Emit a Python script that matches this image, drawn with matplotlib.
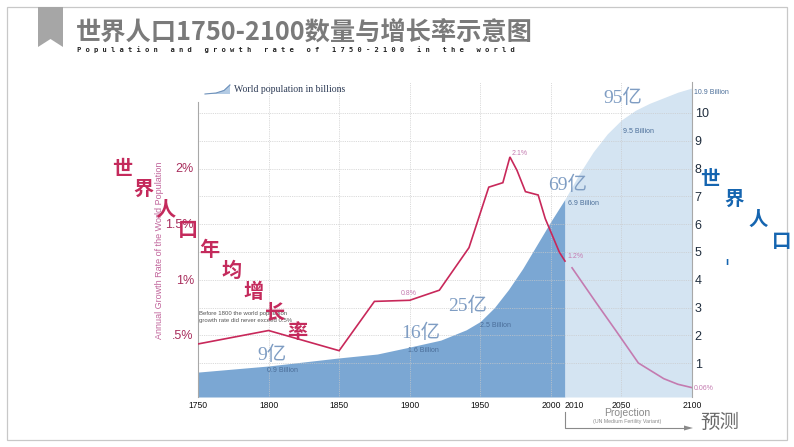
import matplotlib
matplotlib.use('Agg')
import matplotlib.pyplot as plt
from matplotlib.patches import Polygon, Rectangle
from matplotlib.lines import Line2D

plt.rcParams['font.family'] = ['Liberation Sans', 'Noto Sans CJK SC', 'DejaVu Sans']

# ---------------- data ----------------
pop_years = [1750, 1800, 1850, 1877, 1900, 1922, 1940, 1950, 1960, 1970, 1980, 1990, 2000, 2010]
pop_values = [0.68, 0.90, 1.19, 1.33, 1.58, 1.83, 2.20, 2.50, 3.00, 3.65, 4.40, 5.25, 6.10, 6.90]
proj_years = [2010, 2020, 2030, 2040, 2050, 2060, 2070, 2080, 2090, 2100]
proj_values = [6.90, 7.80, 8.60, 9.25, 9.75, 10.10, 10.35, 10.55, 10.75, 10.90]

growth_years = [1750, 1800, 1850, 1875, 1900, 1921, 1942, 1956, 1966, 1971, 1976, 1982, 1991,
                1996, 2003, 2006, 2010]
growth_rate = [0.42, 0.54, 0.36, 0.80, 0.81, 0.90, 1.28, 1.82, 1.86, 2.09, 1.97, 1.78, 1.75,
               1.54, 1.33, 1.24, 1.16]
proj_growth_years = [2015, 2032, 2046, 2062, 2080, 2090, 2100]
proj_growth_rate = [1.10, 0.79, 0.54, 0.25, 0.11, 0.06, 0.03]

x_ticks = [1750, 1800, 1850, 1900, 1950, 2000, 2010, 2050, 2100]
x_tick_labels = ['1750', '1800', '1850', '1900', '1950', '2000', '2010', '2050', '2100']
grid_years = [1800, 1850, 1900, 1950, 2000, 2050]
rate_ticks = [0.5, 1.0, 1.5, 2.0]
rate_tick_labels = ['.5%', '1%', '1.5%', '2%']
pop_ticks = [1, 2, 3, 4, 5, 6, 7, 8, 9, 10]
pop_tick_labels = ['1', '2', '3', '4', '5', '6', '7', '8', '9', '10']

yi_labels = [('9亿', 1802.5, 1.29), ('16亿', 1908, 2.09), ('25亿', 1941, 3.06),
             ('69亿', 2012, 7.41), ('95亿', 2051, 10.54)]
billion_labels = [('0.9 Billion', 1809.6, 0.72), ('1.6 Billion', 1909.6, 1.44),
                  ('2.5 Billion', 1960.6, 2.34), ('6.9 Billion', 2023, 6.76),
                  ('9.5 Billion', 2062, 9.35), ('10.9 Billion', 2113.6, 10.75)]
pct_labels = [('0.8%', 1899, 0.875), ('2.1%', 1977.7, 2.12), ('1.2%', 2017.4, 1.20),
              ('0.06%', 2108, 0.02)]

title = '世界人口1750-2100数量与增长率示意图'
subtitle = 'Population and growth rate of 1750-2100 in the world'
rate_title = '世界人口年均增长率'
pop_title = '世界人口'

# ---------------- figure ----------------
W, H = 794, 447
fig = plt.figure(figsize=(W / 100, H / 100), dpi=100)
fig.patch.set_facecolor('white')


def fx(x):
    return x / W


def fy(y):
    return 1 - y / H


ax = fig.add_axes([fx(198), fy(397), (692 - 198) / W, (397 - 82) / H])
ax2 = ax.twinx()
ax.set_zorder(ax2.get_zorder() + 1)
ax.patch.set_visible(False)

ax.set_xlim(1750, 2100)
rate_lo, rate_hi = -0.0536, 2.759
pop_lo, pop_hi = -0.216, 11.115
ax.set_ylim(rate_lo, rate_hi)
ax2.set_ylim(pop_lo, pop_hi)

# population areas
ax2.fill_between(pop_years, pop_values, pop_lo, color='#7ba7d3', lw=0, zorder=1)
ax2.fill_between(proj_years, proj_values, pop_lo, color='#d4e4f2', lw=0, zorder=1)

# grid
grid_kw = dict(color='#c9c9c9', linestyle=(0, (1, 1.2)), lw=0.6, alpha=0.9)
ax2.set_yticks(pop_ticks)
ax2.set_yticklabels(pop_tick_labels)
for v in pop_ticks:
    ax2.axhline(v, zorder=1.5, **grid_kw)
for yr in grid_years:
    ax2.axvline(yr, zorder=1.5, **grid_kw)

# growth rate lines
ax.plot(growth_years, growth_rate, color='#c8285a', lw=1.2, solid_joinstyle='miter', zorder=3)
ax.plot(proj_growth_years, proj_growth_rate, color='#c47bb0', lw=1.2, zorder=3)

# spines
for s in ['top', 'right', 'bottom']:
    ax.spines[s].set_visible(False)
for s in ['top', 'left', 'bottom']:
    ax2.spines[s].set_visible(False)
ax.spines['left'].set_color('#a8a8a8')
ax.spines['left'].set_linewidth(0.8)
ax.spines['left'].set_bounds(rate_lo, 2.58)
ax2.spines['right'].set_color('#a8a8a8')
ax2.spines['right'].set_linewidth(0.8)

# ticks
ax.set_yticks(rate_ticks)
ax.set_yticklabels(rate_tick_labels)
ax.tick_params(axis='y', length=0, pad=3, labelsize=9, labelcolor='#a82d5c')
ax2.tick_params(axis='y', length=0, pad=2, labelsize=9, labelcolor='#1f2d3d')
ax.set_xticks(x_ticks)
ax.set_xticklabels(x_tick_labels)
ax.tick_params(axis='x', length=0, pad=3, labelsize=6.2, labelcolor='#111111')
for lab in ax.get_xticklabels():
    if lab.get_text() == '2010':
        lab.set_horizontalalignment('left')

# in-plot annotations
for t, xv, yv in yi_labels:
    ax2.text(xv, yv, t, ha='center', va='center', fontsize=14, color='#7f9dc3',
             family=['Liberation Serif', 'Noto Sans CJK SC'], zorder=4)
for t, xv, yv in billion_labels:
    ax2.text(xv, yv, t, ha='center', va='center', fontsize=5, color='#4a6d98',
             zorder=4, clip_on=False)
for t, xv, yv in pct_labels:
    ax.text(xv, yv, t, ha='center', va='center', fontsize=5, color='#c47bb0',
            zorder=4, clip_on=False)
ax.text(1751, 0.714, 'Before 1800 the world population\ngrowth rate did never exceed 0.5%',
        ha='left', va='top', fontsize=4.3, color='#555555', linespacing=1.4, zorder=4)

# axis label (left)
fig.text(fx(159), fy(250), 'Annual Growth Rate of the World Population', rotation=90,
         ha='center', va='center', fontsize=6.5, color='#c0639a')

# legend
fig.add_artist(Polygon([(fx(205), fy(94)), (fx(216), fy(93)), (fx(224), fy(90)),
                        (fx(230), fy(84)), (fx(230), fy(94))], closed=True,
                       facecolor='#b3cbe4', edgecolor='none'))
fig.add_artist(Line2D([fx(205), fx(216), fx(224), fx(230)], [fy(94), fy(93), fy(90.5), fy(85)],
                      color='#6f92bb', lw=0.8))
fig.text(fx(234), fy(89), 'World population in billions', ha='left', va='center', fontsize=7,
         color='#2d3b55', family=['Liberation Serif'])

# diagonal Chinese labels
for i, ch in enumerate(rate_title):
    fig.text(fx(122 + 21.9 * i), fy(168 + 20.5 * i), ch, ha='center', va='center',
             fontsize=14.5, weight='bold', color='#c42a5c', family=['Noto Sans CJK SC'], zorder=10)
for i, ch in enumerate(pop_title):
    fig.text(fx(710 + 24 * i), fy(179 + 20.7 * i), ch, ha='center', va='center',
             fontsize=14, weight='bold', color='#1565b0', family=['Noto Sans CJK SC'], zorder=10)
fig.text(fx(727), fy(262), 'ı', ha='center', va='center', fontsize=8, weight='bold',
         color='#1565b0')

# projection note
fig.text(fx(627), fy(413), 'Projection', ha='center', va='center', fontsize=7.5, color='#8a8a8a')
fig.text(fx(627), fy(422), '(UN Medium Fertility Variant)', ha='center', va='center',
         fontsize=3.8, color='#8a8a8a')
fig.add_artist(Line2D([fx(565), fx(565), fx(684)], [fy(412), fy(428), fy(428)],
                      color='#8a8a8a', lw=0.8))
fig.add_artist(Polygon([(fx(684), fy(425.5)), (fx(693), fy(428)), (fx(684), fy(430.5))],
                       closed=True, facecolor='#8a8a8a', edgecolor='none'))
fig.text(fx(720), fy(422), '预测', ha='center', va='center', fontsize=14, color='#6a6a6a',
         family=['Noto Sans CJK SC'])

# title block
fig.add_artist(Rectangle((fx(7), fy(440)), (787 - 7) / W, (440 - 7) / H, fill=False,
                         edgecolor='#c8c8c8', lw=0.9))
fig.add_artist(Polygon([(fx(38), fy(7)), (fx(63), fy(7)), (fx(63), fy(47)), (fx(50.5), fy(39)),
                        (fx(38), fy(47))], closed=True, facecolor='#a6a6a6', edgecolor='none'))
fig.text(fx(76), fy(32), title, ha='left', va='center', fontsize=18.2, weight='bold',
         color='#7a7a7a', family=['Noto Sans CJK SC'])
fig.text(fx(77), fy(50), ' '.join(subtitle), ha='left', va='center', fontsize=5.1,
         weight='bold', color='#222222', family=['DejaVu Sans Mono'])

fig.savefig('out.png', dpi=100, facecolor='white')
